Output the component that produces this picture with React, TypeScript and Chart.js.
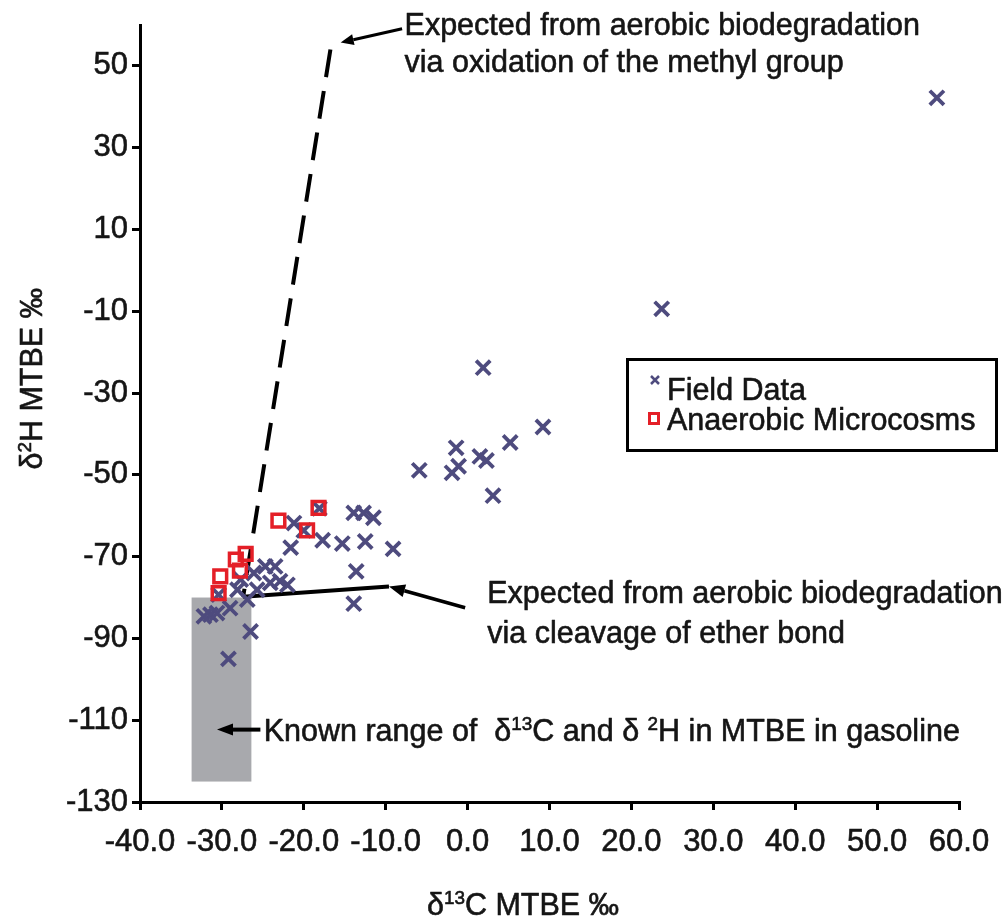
import { useEffect, useRef } from 'react';
import { Chart, registerables } from 'chart.js';

Chart.register(...registerables);

const FONT = "'Liberation Sans', Arial, Helvetica, sans-serif";
const INK = '#151515';
const TEXT_STROKE = 0.6;

// Field samples: δ13C (‰) and δ2H (‰) of MTBE
const fieldC = [
  57.3, 23.7, 1.9, 9.2, 5.2, -1.4, 1.5, 2.3, -1.1, -1.9, -5.9, 3.1,
  -13.9, -12.7, -11.5, -15.3, -12.5, -9.1, -13.6, -13.9, -17.7, -21.2, -20.0, -18.1, -21.6,
  -24.7, -23.5, -22.9, -24.1, -22.0, -27.7, -26.1, -25.7, -28.1, -26.9, -30.4,
  -31.4, -32.2, -30.6, -29.0, -26.5, -29.2,
];
const fieldH = [
  42.2, -9.4, -23.8, -38.3, -42.1, -43.4, -45.5, -46.5, -47.9, -49.5, -48.9, -55.1,
  -59.3, -59.3, -60.5, -66.8, -66.3, -68.1, -73.6, -81.5, -66.0, -61.8, -63.6, -58.2, -67.8,
  -72.4, -72.4, -76.0, -76.4, -76.9, -75.6, -74.0, -78.1, -78.1, -80.5, -79.3,
  -84.2, -84.6, -83.8, -82.6, -88.3, -95.0,
];

// Anaerobic microcosm experiments
const microC = [-23.1, -18.2, -19.6, -27.1, -28.3, -27.8, -30.2, -30.4];
const microH = [-61.2, -58.1, -63.6, -69.3, -70.7, -73.4, -74.8, -78.9];

// Expected trends from aerobic biodegradation
const methylOxidationC = [-16.75, -27.4];
const methylOxidationH = [54, -79.8];
const etherCleavageC = [-27.4, -9.6];
const etherCleavageH = [-79.8, -77.3];

// Known range of MTBE in gasoline
const gasolineRangeC = [-33.7, -26.4];
const gasolineRangeH = [-125, -80];

const xTicks = [-40, -30, -20, -10, 0, 10, 20, 30, 40, 50, 60];
const yTicks = [-130, -110, -90, -70, -50, -30, -10, 10, 30, 50];

const FIELD_COLOR = '#4e4b7e';
const MICRO_COLOR = '#e41f27';

type Seg = { t: string; sup?: boolean };

function font(size: number) {
  return `${size}px ${FONT}`;
}

function richWidth(ctx: CanvasRenderingContext2D, segs: Seg[], size: number) {
  let w = 0;
  for (const s of segs) {
    ctx.font = font(s.sup ? size * 0.62 : size);
    w += ctx.measureText(s.t).width;
  }
  return w;
}

function drawRich(ctx: CanvasRenderingContext2D, segs: Seg[], x: number, y: number, size: number, center = false) {
  let cx = center ? x - richWidth(ctx, segs, size) / 2 : x;
  ctx.save();
  ctx.textBaseline = 'alphabetic';
  ctx.textAlign = 'left';
  ctx.fillStyle = INK;
  ctx.strokeStyle = INK;
  ctx.lineWidth = TEXT_STROKE;
  ctx.lineJoin = 'round';
  for (const s of segs) {
    const sz = s.sup ? size * 0.62 : size;
    ctx.font = font(sz);
    const ty = s.sup ? y - size * 0.36 : y;
    ctx.fillText(s.t, cx, ty);
    ctx.strokeText(s.t, cx, ty);
    cx += ctx.measureText(s.t).width;
  }
  ctx.restore();
}

function arrow(ctx: CanvasRenderingContext2D, x1: number, y1: number, x2: number, y2: number, head: number, half: number, width: number) {
  const a = Math.atan2(y2 - y1, x2 - x1);
  const bx = x2 - head * Math.cos(a);
  const by = y2 - head * Math.sin(a);
  ctx.lineWidth = width;
  ctx.beginPath();
  ctx.moveTo(x1, y1);
  ctx.lineTo(bx, by);
  ctx.stroke();
  ctx.beginPath();
  ctx.moveTo(x2, y2);
  ctx.lineTo(bx - half * Math.sin(a), by + half * Math.cos(a));
  ctx.lineTo(bx + half * Math.sin(a), by - half * Math.cos(a));
  ctx.closePath();
  ctx.fill();
}

const annotationPlugin = {
  id: 'mtbeAnnotations',
  beforeDatasetsDraw(chart: any) {
    const { ctx, scales } = chart;
    const x = scales.x;
    const y = scales.y;
    const l = x.getPixelForValue(gasolineRangeC[0]);
    const r = x.getPixelForValue(gasolineRangeC[1]);
    const t = y.getPixelForValue(gasolineRangeH[1]);
    const b = y.getPixelForValue(gasolineRangeH[0]);
    ctx.save();
    ctx.fillStyle = '#a8a9ad';
    ctx.fillRect(l, t, r - l, b - t);
    ctx.restore();
  },
  afterDatasetsDraw(chart: any) {
    const { ctx, scales, chartArea } = chart;
    const x = scales.x;
    const y = scales.y;
    const px = (v: number) => x.getPixelForValue(v);
    const py = (v: number) => y.getPixelForValue(v);
    ctx.save();
    ctx.fillStyle = '#000';
    ctx.strokeStyle = '#000';

    // methyl-group oxidation note
    arrow(ctx, px(-8.0), py(59.1), px(-15.5), py(55.7), 13, 5.5, 3);
    drawRich(ctx, [{ t: 'Expected from aerobic biodegradation' }], px(-7.7), py(57.6), 30.5);
    drawRich(ctx, [{ t: 'via oxidation of the methyl group' }], px(-7.7), py(57.6) + 37, 30.5);

    // ether-bond cleavage note
    arrow(ctx, px(-0.3), py(-82.5), px(-9.6), py(-77.3), 16, 6.5, 3.5);
    drawRich(ctx, [{ t: 'Expected from aerobic biodegradation' }], px(2.4), py(-81.3), 30.5);
    drawRich(ctx, [{ t: 'via cleavage of ether bond' }], px(2.4), py(-81.3) + 40, 30.5);

    // gasoline range note
    arrow(ctx, px(-25.3), py(-112.3), px(-30.6), py(-112.3), 16, 6, 4);
    drawRich(
      ctx,
      [
        { t: 'Known range of  δ' },
        { t: '13', sup: true },
        { t: 'C and δ ' },
        { t: '2', sup: true },
        { t: 'H in MTBE in gasoline' },
      ],
      px(-24.9),
      py(-115.2),
      30.5,
    );

    // axis titles
    drawRich(ctx, [{ t: 'δ' }, { t: '13', sup: true }, { t: 'C MTBE ‰' }], chartArea.left + 383, 915, 30.5, true);
    ctx.save();
    ctx.translate(42, py(-26.5));
    ctx.rotate(-Math.PI / 2);
    drawRich(ctx, [{ t: 'δ' }, { t: '2', sup: true }, { t: 'H MTBE ‰' }], 0, 0, 30.5, true);
    ctx.restore();

    // legend
    const lx = chartArea.right - 333;
    const ly = chartArea.top + 333;
    ctx.strokeStyle = '#000';
    ctx.lineWidth = 3;
    ctx.strokeRect(lx + 1.5, ly + 1.5, 369, 91);
    const ds = chart.data.datasets;
    // cross marker
    ctx.strokeStyle = ds[0].borderColor;
    ctx.lineWidth = 2.5;
    const cx = lx + 29;
    const cy = ly + 22;
    ctx.beginPath();
    ctx.moveTo(cx - 4, cy - 4);
    ctx.lineTo(cx + 4, cy + 4);
    ctx.moveTo(cx + 4, cy - 4);
    ctx.lineTo(cx - 4, cy + 4);
    ctx.stroke();
    // square marker
    ctx.strokeStyle = ds[1].borderColor;
    ctx.lineWidth = 3;
    ctx.strokeRect(lx + 23.5, ly + 55.5, 9, 10);
    drawRich(ctx, [{ t: ds[0].label }], lx + 41, ly + 42, 30.5);
    drawRich(ctx, [{ t: ds[1].label }], lx + 41, ly + 72, 30.5);
    ctx.restore();
  },
};

export default function App() {
  const canvasRef = useRef<HTMLCanvasElement | null>(null);

  useEffect(() => {
    if (!canvasRef.current) return;
    Chart.defaults.font.family = FONT;
    const axisGrid = {
      display: true,
      drawOnChartArea: false,
      drawTicks: true,
      tickLength: 8,
      color: '#000',
      lineWidth: 3,
    };
    const tickFont = { family: FONT, size: 31 };
    const chart = new Chart(canvasRef.current, {
      type: 'scatter',
      data: {
        datasets: [
          {
            label: 'Field Data',
            data: fieldC.map((c, i) => ({ x: c, y: fieldH[i] })),
            pointStyle: 'crossRot',
            pointRadius: 10,
            borderWidth: 3.8,
            borderColor: FIELD_COLOR,
            backgroundColor: FIELD_COLOR,
            order: 1,
          },
          {
            label: 'Anaerobic Microcosms',
            data: microC.map((c, i) => ({ x: c, y: microH[i] })),
            pointStyle: 'rect',
            pointRadius: 9,
            borderWidth: 3.5,
            borderColor: MICRO_COLOR,
            backgroundColor: 'rgba(0,0,0,0)',
            order: 0,
          },
          {
            label: 'methyl oxidation',
            type: 'line',
            data: methylOxidationC.map((c, i) => ({ x: c, y: methylOxidationH[i] })),
            borderColor: '#000',
            borderWidth: 4,
            borderDash: [28, 14],
            pointRadius: 0,
            showLine: true,
            order: 2,
          },
          {
            label: 'ether cleavage',
            type: 'line',
            data: etherCleavageC.map((c, i) => ({ x: c, y: etherCleavageH[i] })),
            borderColor: '#000',
            borderWidth: 4,
            pointRadius: 0,
            showLine: true,
            order: 2,
          },
        ],
      } as any,
      options: {
        responsive: false,
        animation: false,
        layout: { padding: { top: 25, right: 45, bottom: 0, left: 0 } },
        plugins: { legend: { display: false }, tooltip: { enabled: false } },
        scales: {
          x: {
            type: 'linear',
            min: -40,
            max: 60,
            afterBuildTicks: (s: any) => {
              s.ticks = xTicks.map((v) => ({ value: v }));
            },
            afterFit: (s: any) => {
              s.height = 117;
            },
            grid: axisGrid,
            border: { display: true, color: '#000', width: 3 },
            ticks: {
              autoSkip: false,
              maxRotation: 0,
              padding: 14,
              color: INK,
              textStrokeColor: INK,
              textStrokeWidth: TEXT_STROKE,
              font: tickFont,
              callback: (v: any) => Number(v).toFixed(1),
            },
          },
          y: {
            type: 'linear',
            min: -130,
            max: 60,
            afterBuildTicks: (s: any) => {
              s.ticks = yTicks.map((v) => ({ value: v }));
            },
            afterFit: (s: any) => {
              s.width = 140;
            },
            grid: axisGrid,
            border: { display: true, color: '#000', width: 3 },
            ticks: {
              autoSkip: false,
              padding: 4,
              color: INK,
              textStrokeColor: INK,
              textStrokeWidth: TEXT_STROKE,
              font: tickFont,
              callback: (v: any) => String(v),
            },
          },
        },
      } as any,
      plugins: [annotationPlugin],
    });
    return () => chart.destroy();
  }, []);

  return (
    <div style={{ position: 'fixed', left: 0, top: 0, width: 1004, height: 919, background: '#fff' }}>
      <canvas ref={canvasRef} width={1004} height={919} style={{ display: 'block' }} />
    </div>
  );
}
